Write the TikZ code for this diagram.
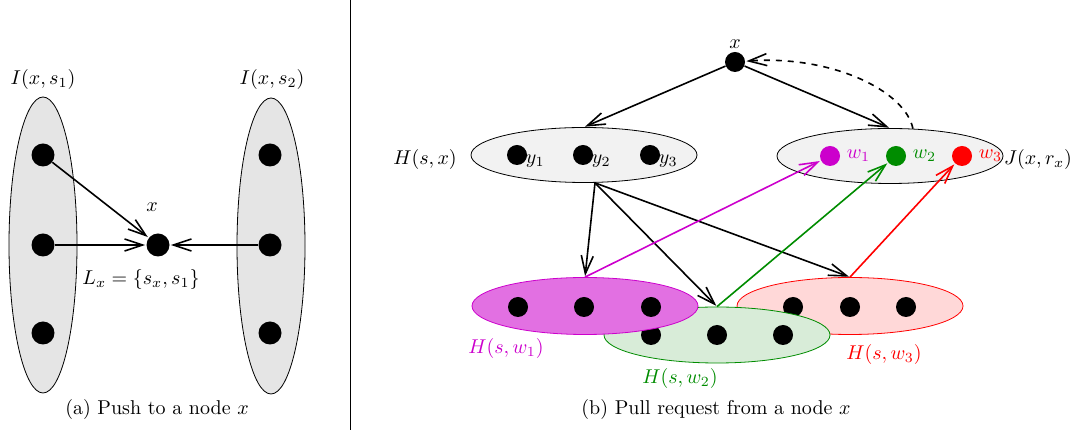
\documentclass[tikz,border=0pt]{standalone}
\usepackage{amsmath}
\usetikzlibrary{arrows.meta,shapes.geometric}
\definecolor{wone}{RGB}{204,0,204}
\definecolor{wtwo}{RGB}{0,140,0}
\definecolor{wthree}{RGB}{255,0,0}
\definecolor{fillone}{RGB}{226,112,226}
\definecolor{filltwo}{RGB}{216,236,216}
\definecolor{fillthree}{RGB}{255,216,216}

\begin{document}
\begin{tikzpicture}[x=0.5pt,y=-0.5pt,
    dot/.style={circle,fill=black,inner sep=0pt,minimum size=10pt},
    bigdot/.style={circle,fill=black,inner sep=0pt,minimum size=11.5pt},
    set/.style={ellipse,draw,line width=0.4pt,inner sep=0pt},
    arr/.style={-{Straight Barb[length=9pt,width=6pt]},line width=0.8pt,shorten >=0.5pt}]
    \useasboundingbox (0,0) rectangle (1076,437);
    % (a) push
    \node[set,fill=black!10,minimum width=34pt,minimum height=148pt] (is1) at (43,245) {};
    \node[set,fill=black!10,minimum width=34pt,minimum height=148pt] (is2) at (271,246) {};
    \node (lis1) at (43,80) {$I(x,s_1)$};
    \node (lis2) at (272,80) {$I(x,s_2)$};
    \node[bigdot] (a1) at (43,155) {};
    \node[bigdot] (a2) at (43,245) {};
    \node[bigdot] (a3) at (43,333) {};
    \node[bigdot] (b1) at (270,155) {};
    \node[bigdot] (b2) at (270,245) {};
    \node[bigdot] (b3) at (270,333) {};
    \node[bigdot] (xa) at (158,245) {};
    \node (lxa) at (152,207) {$x$};
    \node (llx) at (141,280) {$L_x = \{s_x, s_1\}$};
    \draw[arr] (a1) -- (xa);
    \draw[arr] (a2) -- (xa);
    \draw[arr] (b2) -- (xa);
    \node (capa) at (157,410) {(a) Push to a node $x$};
    % separator
    \draw[line width=0.5pt] (350,0) -- (350,430);
    % (b) pull
    \node[set,fill=black!5,minimum width=113pt,minimum height=27.5pt] (hsx) at (584,155) {};
    \node[set,fill=black!5,minimum width=113pt,minimum height=27.5pt] (jx) at (890,156) {};
    \node (lhsx) at (425,160) {$H(s,x)$};
    \node (ljx) at (1038,160) {$J(x,r_x)$};
    \node[dot,label={[anchor=west,inner sep=0pt,xshift=-1pt,yshift=-3pt]right:$y_1$}] (y1) at (517,155) {};
    \node[dot,label={[anchor=west,inner sep=0pt,xshift=-1pt,yshift=-3pt]right:$y_2$}] (y2) at (583,155) {};
    \node[dot,label={[anchor=west,inner sep=0pt,xshift=-1pt,yshift=-3pt]right:$y_3$}] (y3) at (650,155) {};
    \node[dot,fill=wone,label={[text=wone,inner sep=0pt,label distance=3pt]right:$w_1$}] (w1) at (830,156) {};
    \node[dot,fill=wtwo,label={[text=wtwo,inner sep=0pt,label distance=3pt]right:$w_2$}] (w2) at (896,156) {};
    \node[dot,fill=wthree,label={[text=wthree,inner sep=0pt,label distance=3pt]right:$w_3$}] (w3) at (962,156) {};
    \node[dot] (xb) at (735,62) {};
    \node (lxb) at (735,44) {$x$};
    % lower sets, back to front
    \node[set,draw=wthree,fill=fillthree,minimum width=113pt,minimum height=28.5pt] (hw3) at (850,306) {};
    \node[dot] (c1) at (793,307) {};
    \node[dot] (c2) at (850,307) {};
    \node[dot] (c3) at (906,307) {};
    \node[set,draw=wtwo,fill=filltwo,minimum width=113pt,minimum height=28pt] (hw2) at (717,335) {};
    \node[dot] (d1) at (651,335) {};
    \node[dot] (d2) at (717,335) {};
    \node[dot] (d3) at (783,335) {};
    \node[set,draw=wone,fill=fillone,minimum width=113pt,minimum height=28.5pt] (hw1) at (585,306) {};
    \node[dot] (e1) at (518,307) {};
    \node[dot] (e2) at (584,307) {};
    \node[dot] (e3) at (651,307) {};
    \node[text=wone] (lhw1) at (506,349) {$H(s,w_1)$};
    \node[text=wtwo] (lhw2) at (680,379) {$H(s,w_2)$};
    \node[text=wthree] (lhw3) at (884,355) {$H(s,w_3)$};
    % arrows
    \draw[arr] (xb) -- (hsx.north);
    \draw[arr] (xb) -- (jx.north);
    \draw[arr,dashed] (jx.50) .. controls (905,90) and (830,55) .. (xb);
    \draw[arr] ([xshift=5.5pt]hsx.south) -- (hw1.north);
    \draw[arr] ([xshift=5.5pt]hsx.south) -- (hw2.north);
    \draw[arr] ([xshift=5.5pt]hsx.south) -- (hw3.north);
    \draw[arr,wone] (hw1.north) -- (w1);
    \draw[arr,wtwo] (hw2.north) -- (w2);
    \draw[arr,wthree] (hw3.north) -- (w3);
    \node (capb) at (716,410) {(b) Pull request from a node $x$};
\end{tikzpicture}
\end{document}
